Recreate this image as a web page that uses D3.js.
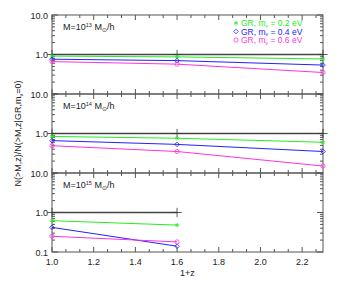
<!DOCTYPE html>
<meta charset="utf-8">
<script src="https://d3js.org/d3.v7.min.js"></script>
<style>
  body { margin: 0; background: #fff; }
  text { font-family: "Liberation Sans", Arial, sans-serif; fill: #222; }
</style>
<div id="chart"></div>
<script>
// x values (1+z)
const xFull = [1.0, 1.6, 2.3];
const xShort = [1.0, 1.6];

// panel labels (mass exponents)
const massExp = ["13", "14", "15"];

// ratios per panel: m_nu = 0.2, 0.4, 0.6 eV
const p13_02 = [0.91, 0.87, 0.77];
const p13_04 = [0.76, 0.70, 0.54];
const p13_06 = [0.66, 0.57, 0.35];
const p14_02 = [0.84, 0.76, 0.60];
const p14_04 = [0.66, 0.53, 0.35];
const p14_06 = [0.49, 0.35, 0.15];
const p15_02 = [0.62, 0.48];
const p15_04 = [0.42, 0.14];
const p15_06 = [0.25, 0.18];
const reference = [1, 1, 1];

const legendMasses = ["0.2", "0.4", "0.6"];
const xTicks = [1.0, 1.2, 1.4, 1.6, 1.8, 2.0, 2.2];
const yTicks = [0.1, 1, 10];

const colors = ["#22ee22", "#2222ff", "#ff33dd"];
const symbols = [d3.symbolAsterisk, d3.symbolDiamond2, d3.symbolCircle];

const panels = [
  {x: xFull, series: [p13_02, p13_04, p13_06]},
  {x: xFull, series: [p14_02, p14_04, p14_06]},
  {x: xShort, series: [p15_02, p15_04, p15_06]}
];

const W = 340, H = 284;
const mLeft = 52, mRight = 323, mTop = 15, ph = 79;
const fs = 9;

const svg = d3.select("#chart").append("svg")
  .attr("width", W).attr("height", H);

const x = d3.scaleLinear().domain([1.0, 2.3]).range([mLeft, mRight]);

// minor x ticks: 3 sub-intervals per 0.2
const xMinor = d3.range(0, 40).map(i => 1.0 + i * 0.2 / 3).filter(v => v <= 2.301);
// minor y ticks
const yMinor = [];
[0.1, 1].forEach(d => { for (let k = 2; k <= 9; k++) yMinor.push(d * k); });

const axisCol = "#555";

panels.forEach((p, i) => {
  const y0 = mTop + i * ph;
  const y = d3.scaleLog().domain([0.1, 10]).range([y0 + ph, y0]);
  const g = svg.append("g");

  // box
  g.append("rect")
    .attr("x", mLeft).attr("y", y0)
    .attr("width", mRight - mLeft).attr("height", ph)
    .attr("fill", "none").attr("stroke", axisCol).attr("stroke-width", 1);

  // x ticks top and bottom
  xMinor.forEach(v => {
    const major = xTicks.some(t => Math.abs(t - v) < 1e-6);
    const len = major ? 5 : 3;
    g.append("line").attr("x1", x(v)).attr("x2", x(v))
      .attr("y1", y0 + ph).attr("y2", y0 + ph - len)
      .attr("stroke", axisCol);
    g.append("line").attr("x1", x(v)).attr("x2", x(v))
      .attr("y1", y0).attr("y2", y0 + len)
      .attr("stroke", axisCol);
  });

  // y ticks left and right
  yTicks.concat(yMinor).forEach(v => {
    const len = yTicks.includes(v) ? 6 : 3;
    g.append("line").attr("x1", mLeft).attr("x2", mLeft + len)
      .attr("y1", y(v)).attr("y2", y(v)).attr("stroke", axisCol);
    g.append("line").attr("x1", mRight).attr("x2", mRight - len)
      .attr("y1", y(v)).attr("y2", y(v)).attr("stroke", axisCol);
  });

  // y tick labels
  const labs = i === 2 ? yTicks : [1, 10];
  labs.forEach(v => {
    g.append("text").attr("x", mLeft - 4).attr("y", y(v) + 3.5)
      .attr("text-anchor", "end").attr("font-size", fs)
      .text(v.toFixed(1));
  });

  // panel label
  const t = g.append("text").attr("x", 63).attr("y", y0 + 15).attr("font-size", fs);
  t.append("tspan").text("M=10");
  t.append("tspan").attr("font-size", 5.5).attr("dy", -3.5).text(massExp[i]);
  t.append("tspan").attr("dy", 3.5).text(" M");
  t.append("tspan").attr("font-size", 5.5).attr("dy", 1.5).text("\u2299");
  t.append("tspan").attr("dy", -1.5).text("/h");

  const line = d3.line().x((d, j) => x(p.x[j])).y(d => y(d));

  // reference line
  g.append("path").datum(reference.slice(0, p.x.length))
    .attr("d", line).attr("fill", "none")
    .attr("stroke", "#444").attr("stroke-width", 1.3);
  g.selectAll(".ref").data(p.x).join("path")
    .attr("transform", d => `translate(${x(d)},${y(1)})`)
    .attr("d", d3.symbol(d3.symbolPlus, 30))
    .attr("fill", "none").attr("stroke", "#333").attr("stroke-width", 0.8);

  p.series.forEach((s, k) => {
    g.append("path").datum(s).attr("d", line).attr("fill", "none")
      .attr("stroke", colors[k]).attr("stroke-width", 1);
    g.selectAll(".m" + k).data(s).join("path")
      .attr("transform", (d, j) => `translate(${x(p.x[j])},${y(d)})`)
      .attr("d", d3.symbol(symbols[k], 14))
      .attr("fill", "none").attr("stroke", colors[k]).attr("stroke-width", 0.8);
  });
});

// x tick labels
xTicks.forEach(v => {
  svg.append("text").attr("x", x(v)).attr("y", 265)
    .attr("text-anchor", "middle").attr("font-size", fs).text(v.toFixed(1));
});
svg.append("text").attr("x", (mLeft + mRight) / 2).attr("y", 276)
  .attr("text-anchor", "middle").attr("font-size", fs).text("1+z");

// y axis label
const yl = svg.append("text")
  .attr("transform", `translate(21,${mTop + 1.5 * ph}) rotate(-90)`)
  .attr("text-anchor", "middle").attr("font-size", fs);
yl.append("tspan").text("N(>M,z)/N(>M,z|GR,m");
yl.append("tspan").attr("font-size", 5.5).attr("dy", 1.5).text("\u03bd");
yl.append("tspan").attr("dy", -1.5).text("=0)");

// legend
legendMasses.forEach((m, k) => {
  const ly = 23 + k * 8.5;
  svg.append("path")
    .attr("transform", `translate(236,${ly})`)
    .attr("d", d3.symbol(symbols[k], 14))
    .attr("fill", "none").attr("stroke", colors[k]).attr("stroke-width", 0.8);
  const lt = svg.append("text").attr("x", 241).attr("y", ly + 3)
    .attr("font-size", 8.5).style("fill", colors[k]);
  lt.append("tspan").text("GR, m");
  lt.append("tspan").attr("font-size", 5).attr("dy", 1.5).text("\u03bd");
  lt.append("tspan").attr("dy", -1.5).text(" = " + m + " eV");
});
</script>
